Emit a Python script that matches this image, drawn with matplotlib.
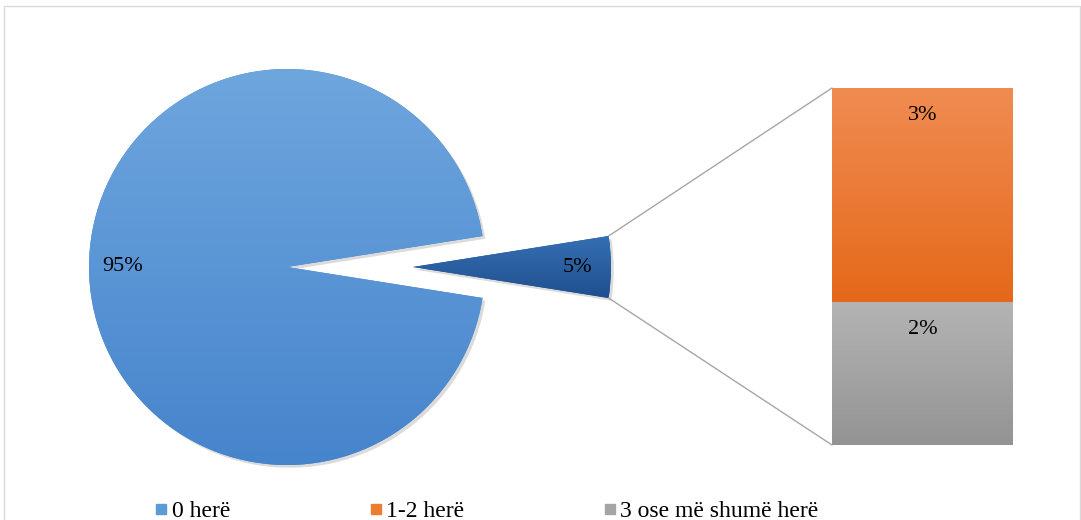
import numpy as np
import matplotlib
matplotlib.use("Agg")
import matplotlib.pyplot as plt
import matplotlib.patheffects as pe
from matplotlib.colors import LinearSegmentedColormap
from matplotlib.lines import Line2D
from matplotlib.patches import ConnectionPatch, Rectangle

# share of respondents, the small slice is split in the bar
pie_values = [95, 5]
bar_labels = ['1-2 herë', '3 ose më shumë herë']
bar_values = [3, 2]
legend_labels = ['0 herë', '1-2 herë', '3 ose më shumë herë']

blue = ('#6ea6de', '#4684cc')
navy = ('#3570b3', '#1f4f8e')
orange = ('#f08c52', '#e5681a')
gray = ('#b4b4b4', '#939393')
legend_colors = ['#5b9bd5', '#ed7d31', '#a5a5a5']

plt.rcParams['font.family'] = ['Liberation Serif', 'DejaVu Serif']
FS = 16


def fill_gradient(axis, patch, top, bottom, box):
    cmap = LinearSegmentedColormap.from_list('grad', [bottom, top])
    x0, y0, x1, y1 = box
    im = axis.imshow(np.linspace(0, 1, 256).reshape(-1, 1), cmap=cmap,
                     extent=(x0, x1, y0, y1), origin='lower', aspect='auto',
                     interpolation='bicubic', zorder=patch.get_zorder() + 0.1)
    im.set_clip_path(patch)


fig = plt.figure(figsize=(10.81, 5.20), dpi=100)

# pie in pixel-like coordinates
ax = fig.add_axes([0, 0, 1, 1])
cx, cy, R = 287, 253, 198
wedges, _, pcts = ax.pie(pie_values[::-1], startangle=-9, counterclock=True,
                         explode=[126, 0], center=(cx, cy), radius=R,
                         frame=True, autopct='%1.0f%%', pctdistance=0.83,
                         textprops=dict(fontsize=FS, color='black'))
for w, (top, bot) in zip(wedges, [navy, blue]):
    w.set_facecolor(bot)
    w.set_edgecolor('none')
    w.set_path_effects([pe.SimplePatchShadow(offset=(2, -2), shadow_rgbFace='#888888', alpha=0.3),
                        pe.Normal()])
for w, (top, bot) in zip(wedges, [navy, blue]):
    ext = w.get_path().get_extents()
    fill_gradient(ax, w, top, bot, (ext.x0, ext.y0, ext.x1, ext.y1))
for t in pcts:
    t.set_zorder(5)

ax.set_xlim(0, 1081)
ax.set_ylim(0, 520)
ax.set_aspect('equal')
ax.axis('off')

# stacked bar for the 5% slice
bx = fig.add_axes([832 / 1081, 75 / 520, 181 / 1081, 357 / 520])
total = sum(bar_values)
bottom = total
for label, v, (top, bot) in zip(bar_labels, bar_values, [orange, gray]):
    bottom -= v
    bar = bx.bar(0, v, bottom=bottom, width=1, color=bot, edgecolor='none')[0]
    bar.set_path_effects([pe.SimplePatchShadow(offset=(2, -2), shadow_rgbFace='#888888', alpha=0.3),
                          pe.Normal()])
    fill_gradient(bx, bar, top, bot, (-0.5, bottom, 0.5, bottom + v))
    bx.annotate(f'{v}%', xy=(0, bottom + v), xytext=(0, -27), textcoords='offset pixels',
                ha='center', va='center', fontsize=FS, zorder=5)
bx.set_xlim(-0.5, 0.5)
bx.set_ylim(0, total)
bx.axis('off')

# connector lines from the small wedge to the bar
small = wedges[0]
sx, sy = small.center
half = np.deg2rad(9)
for y_end, sign in [(total, 1), (0, -1)]:
    con = ConnectionPatch(xyA=(sx + R * np.cos(half), sy + sign * R * np.sin(half)), coordsA=ax.transData,
                          xyB=(-0.5, y_end), coordsB=bx.transData,
                          color='#a6a6a6', linewidth=1)
    fig.add_artist(con)

# legend
handles = [Line2D([], [], marker='s', linestyle='none', markersize=7, color=c)
           for c in legend_colors]
fig.legend(handles, legend_labels, loc='center', bbox_to_anchor=(487 / 1081, 1 - 511 / 520),
           ncol=3, frameon=False, fontsize=17, handlelength=0.5, handletextpad=0.2,
           columnspacing=5.9)

# chart border
fig.add_artist(Rectangle((4 / 1081, -0.05), 1076 / 1081, 1.05 - 6 / 520,
                         transform=fig.transFigure, fill=False, edgecolor='#d9d9d9', linewidth=1))

fig.savefig('out.png', dpi=100)
